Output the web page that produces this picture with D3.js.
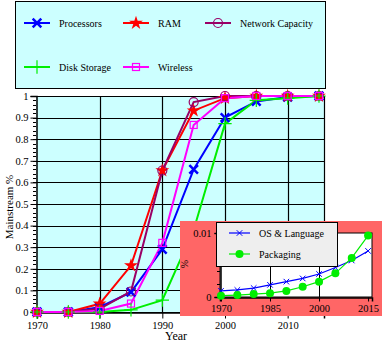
<!DOCTYPE html>
<html><head><meta charset="utf-8">
<script src="https://cdn.jsdelivr.net/npm/d3@7"></script>
<style>
html,body{margin:0;padding:0;background:#fff;}
svg text{font-family:"Liberation Serif","DejaVu Serif","Times New Roman",serif;fill:#000;}
</style></head>
<body>
<svg id="c" width="382" height="346"></svg>
<script>
// ---------- data ----------
const years = [1970, 1975, 1980, 1985, 1990, 1995, 2000, 2005, 2010, 2015];
const processors = [0, 0, 0.022, 0.092, 0.29, 0.66, 0.90, 0.975, 0.995, 1.0];
const ram        = [0, 0, 0.038, 0.215, 0.655, 0.932, 0.99, 1.0, 1.0, 1.0];
const network    = [0, 0, 0.015, 0.095, 0.655, 0.972, 1.0, 1.0, 1.0, 1.0];
const disk       = [0, 0, 0, 0.01, 0.055, 0.38, 0.872, 0.98, 0.99, 1.0];
const wireless   = [0, 0, 0.005, 0.039, 0.32, 0.866, 0.99, 1.0, 1.0, 1.0];
const seriesNames = ["Processors", "RAM", "Network Capacity", "Disk Storage", "Wireless"];
const xTicks = [1970, 1980, 1990, 2000, 2010];
const yTicks = [0, 0.1, 0.2, 0.3, 0.4, 0.5, 0.6, 0.7, 0.8, 0.9, 1];

const insetYears = [1970, 1975, 1980, 1985, 1990, 1995, 2000, 2005, 2010, 2015];
const osLanguage = [0.00095, 0.0011, 0.0014, 0.0019, 0.0024, 0.0029, 0.0036, 0.0046, 0.0057, 0.0072];
const packaging  = [0.0002, 0.0003, 0.00045, 0.0006, 0.00095, 0.0016, 0.0024, 0.0037, 0.0061, 0.0096];
const insetNames = ["OS & Language", "Packaging"];
const insetXTicks = [1970, 1985, 2000, 2015];
const insetYTicks = [0, 0.01];

const SERIF = '"Liberation Serif","DejaVu Serif","Times New Roman",serif';

// ---------- setup ----------
const svg = d3.select("#c");
const P = {l: 36, r: 324, t: 96, b: 312};
const x = d3.scaleLinear().domain([1970, 2015.8]).range([37, 324]);
const y = d3.scaleLinear().domain([0, 1]).range([P.b, P.t]);

// legend box
svg.append("rect").attr("x", 15.5).attr("y", 1.5).attr("width", 310).attr("height", 87)
  .attr("fill", "#ccffff").attr("stroke", "#000").attr("stroke-width", 1);

// plot bg
svg.append("rect").attr("x", P.l).attr("y", P.t).attr("width", P.r - P.l).attr("height", P.b - P.t)
  .attr("fill", "#ccffff");

// grid
const g = svg.append("g");
g.selectAll(".hg").data(yTicks).join("line")
  .attr("x1", P.l).attr("x2", P.r).attr("y1", d => Math.round(y(d)) + 0.5).attr("y2", d => Math.round(y(d)) + 0.5)
  .attr("stroke", "#000").attr("stroke-width", 1.2);
g.selectAll(".vg").data(xTicks.slice(1)).join("line")
  .attr("y1", P.t).attr("y2", P.b).attr("x1", d => Math.round(x(d)) + 0.5).attr("x2", d => Math.round(x(d)) + 0.5)
  .attr("stroke", "#000").attr("stroke-width", 1.2);
g.append("line").attr("x1", P.r + 0.5).attr("x2", P.r + 0.5).attr("y1", P.t).attr("y2", P.b)
  .attr("stroke", "#000").attr("stroke-width", 1.2);

function styleText(sel, size) {
  sel.selectAll("text").attr("font-size", size).style("font-family", SERIF).attr("fill", "#000");
}

// y axis
const yAxis = d3.axisLeft(y).tickValues(yTicks).tickFormat(d => d === 0 ? "0" : d === 1 ? "1" : d3.format(".1f")(d)).tickSize(6).tickPadding(2);
const ya = svg.append("g").attr("transform", `translate(${P.l + 0.5},0)`).call(yAxis);
styleText(ya, 10.5);
ya.select(".domain").attr("stroke-width", 1.5);
const yMinor = d3.range(0, 1.0001, 0.02);
svg.append("g").selectAll("line").data(yMinor).join("line")
  .attr("x1", P.l - 3).attr("x2", P.l).attr("y1", d => Math.round(y(d)) + 0.5).attr("y2", d => Math.round(y(d)) + 0.5)
  .attr("stroke", "#000");

// x axis
const xAxis = d3.axisBottom(x).tickValues(xTicks).tickFormat(d3.format("d")).tickSize(6).tickPadding(3);
const xa = svg.append("g").attr("transform", `translate(0,${P.b + 0.5})`).call(xAxis);
styleText(xa, 10.5);
xa.select(".domain").attr("stroke-width", 1.5);

svg.append("text").attr("x", 176).attr("y", 340).attr("text-anchor", "middle").attr("font-size", 12).style("font-family", SERIF).text("Year");
svg.append("text").attr("transform", "translate(13,207) rotate(-90)").attr("text-anchor", "middle").attr("font-size", 11).style("font-family", SERIF).text("Mainstream %");

// series
const colors = ["#0000ff", "#ff0000", "#990066", "#00ee00", "#ff00ff"];
const allData = [processors, ram, network, disk, wireless];
const line = d3.line().x((d, i) => x(years[i])).y(d => y(d));

function drawMarker(sel, k, cx, cy) {
  const c = colors[k];
  if (k === 0) {
    sel.append("path").attr("d", d3.symbol().type(d3.symbolTimes).size(50)()).attr("transform", `translate(${cx},${cy})`)
      .attr("stroke", c).attr("stroke-width", 2.5).attr("fill", "none");
  } else if (k === 1) {
    sel.append("path").attr("d", d3.symbol().type(d3.symbolStar).size(60)()).attr("transform", `translate(${cx},${cy})`)
      .attr("fill", c);
  } else if (k === 2) {
    sel.append("circle").attr("cx", cx).attr("cy", cy).attr("r", 4.5).attr("fill", "none").attr("stroke", c).attr("stroke-width", 1.2);
  } else if (k === 3) {
    sel.append("path").attr("d", d3.symbol().type(d3.symbolPlus).size(60)()).attr("transform", `translate(${cx},${cy})`)
      .attr("stroke", c).attr("stroke-width", 1.2).attr("fill", "none");
  } else {
    sel.append("rect").attr("x", cx - 3.5).attr("y", cy - 3.5).attr("width", 7).attr("height", 7)
      .attr("fill", "none").attr("stroke", c).attr("stroke-width", 1.2);
  }
}

const sg = svg.append("g");
allData.forEach((arr, k) => {
  sg.append("path").datum(arr).attr("d", line).attr("fill", "none").attr("stroke", colors[k]).attr("stroke-width", 2);
});
allData.forEach((arr, k) => {
  arr.forEach((v, i) => drawMarker(sg, k, x(years[i]), y(v)));
});

// legend items
const legPos = [[24, 23], [123, 23], [205, 23], [24, 67], [123, 67]];
seriesNames.forEach((n, k) => {
  const [lx, ly] = legPos[k];
  svg.append("line").attr("x1", lx).attr("x2", lx + 26).attr("y1", ly).attr("y2", ly).attr("stroke", colors[k]).attr("stroke-width", 2);
  drawMarker(svg, k, lx + 13, ly);
  svg.append("text").attr("x", lx + 35).attr("y", ly + 4).attr("font-size", 10).style("font-family", SERIF).text(n);
});

// ---------- inset ----------
svg.append("rect").attr("x", 180).attr("y", 221).attr("width", 202).attr("height", 95).attr("fill", "#ff6666");
const I = {l: 220, r: 372, t: 233, b: 297};
const ix = d3.scaleLinear().domain([1969.7, 2016.2]).range([I.l, I.r]);
const iy = d3.scaleLinear().domain([0, 0.01]).range([I.b, I.t]);
svg.append("rect").attr("x", I.l).attr("y", I.t).attr("width", I.r - I.l).attr("height", I.b - I.t)
  .attr("fill", "#fff").attr("stroke", "#000").attr("stroke-width", 1);
svg.append("g").selectAll("line").data(insetXTicks.slice(1, 3)).join("line")
  .attr("x1", d => Math.round(ix(d)) + 0.5).attr("x2", d => Math.round(ix(d)) + 0.5).attr("y1", I.t).attr("y2", I.b)
  .attr("stroke", "#000");
const iya = svg.append("g").attr("transform", `translate(${I.l + 0.5},0)`)
  .call(d3.axisLeft(iy).tickValues(insetYTicks).tickFormat(d => d === 0 ? "0" : "0.01").tickSize(6).tickPadding(3));
styleText(iya, 10.5);
iya.select(".domain").attr("stroke-width", 1.5);
svg.append("g").selectAll("line").data(d3.range(0.002, 0.0099, 0.002)).join("line")
  .attr("x1", I.l - 3).attr("x2", I.l).attr("y1", d => Math.round(iy(d)) + 0.5).attr("y2", d => Math.round(iy(d)) + 0.5)
  .attr("stroke", "#000");
const ixa = svg.append("g").attr("transform", `translate(0,${I.b + 0.5})`)
  .call(d3.axisBottom(ix).tickValues(insetXTicks).tickFormat(d3.format("d")).tickSize(4).tickPadding(3));
styleText(ixa, 10.5);
ixa.select(".domain").attr("stroke-width", 1.5);
svg.append("text").attr("transform", "translate(188,264) rotate(-90)").attr("text-anchor", "middle").attr("font-size", 10).style("font-family", SERIF).text("%");

const iColors = ["#0000ff", "#00ee00"];
const iData = [osLanguage, packaging];
const iline = d3.line().x((d, i) => ix(insetYears[i])).y(d => iy(d));
function insetMarker(sel, k, cx, cy) {
  if (k === 0) {
    sel.append("path").attr("d", d3.symbol().type(d3.symbolTimes).size(22)()).attr("transform", `translate(${cx},${cy})`)
      .attr("stroke", iColors[0]).attr("stroke-width", 1).attr("fill", "none");
  } else {
    sel.append("circle").attr("cx", cx).attr("cy", cy).attr("r", 4).attr("fill", iColors[1]);
  }
}
iData.forEach((arr, k) => {
  svg.append("path").datum(arr).attr("d", iline).attr("fill", "none").attr("stroke", iColors[k]).attr("stroke-width", 1.2);
  arr.forEach((v, i) => insetMarker(svg, k, ix(insetYears[i]), iy(v)));
});

// inset legend
svg.append("rect").attr("x", 216.5).attr("y", 222.5).attr("width", 121).attr("height", 44)
  .attr("fill", "#eeeeee").attr("stroke", "#000").attr("stroke-width", 1);
const iLeg = [[229, 233], [229, 254]];
insetNames.forEach((n, k) => {
  const [lx, ly] = iLeg[k];
  svg.append("line").attr("x1", lx).attr("x2", lx + 21).attr("y1", ly).attr("y2", ly).attr("stroke", iColors[k]).attr("stroke-width", 1.2);
  insetMarker(svg, k, lx + 10.5, ly);
  svg.append("text").attr("x", lx + 30).attr("y", ly + 4).attr("font-size", 10).style("font-family", SERIF).text(n);
});
</script>
</body></html>
